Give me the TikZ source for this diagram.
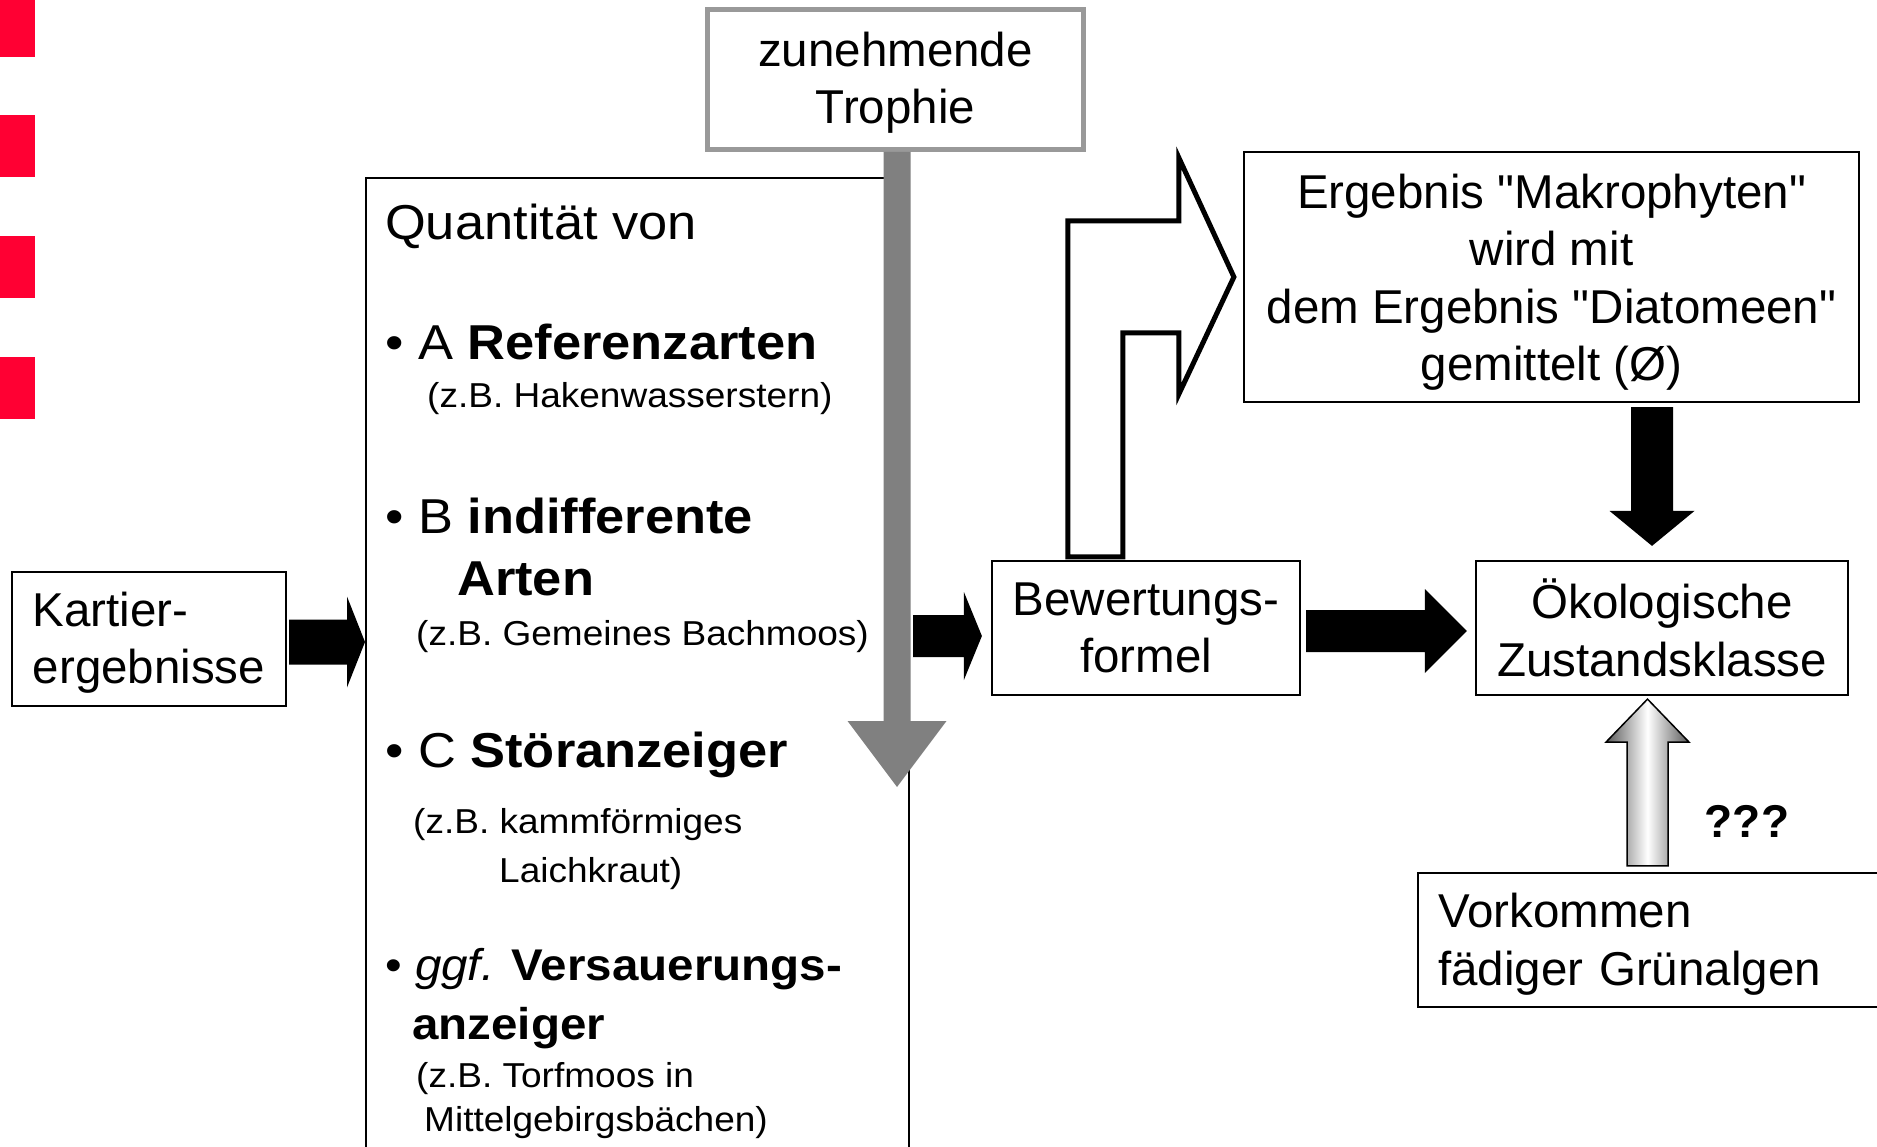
\documentclass[tikz,border=0pt]{standalone}
\usepackage{fontspec}
\setmainfont{Liberation Sans}[Ligatures=TeXOff]
\newfontfamily\quantfont[FakeStretch=1.07,Ligatures=TeXOff]{Liberation Sans}
\usetikzlibrary{calc}
\definecolor{barred}{RGB}{255,0,51}
\definecolor{shaftgray}{RGB}{128,128,128}
\definecolor{framegray}{RGB}{153,153,153}

\begin{document}
\begin{tikzpicture}[x=1pt, y=-1pt,
    kasten/.style={draw, line width=2.2pt, inner sep=0pt, align=center, font=\fontsize{47.5}{57.5}\selectfont},
    punkt/.style={anchor=base west, inner sep=0pt, font=\quantfont\fontsize{49}{59}\selectfont},
    punktklein/.style={punkt, font=\quantfont\fontsize{44.4}{54}\selectfont},
    beispiel/.style={anchor=base west, inner sep=0pt, font=\quantfont\fontsize{34.6}{42}\selectfont},
    blockpfeil/.style={fill=black}]

\useasboundingbox (0,0) rectangle (1877,1147);
\clip (0,0) rectangle (1877,1147);

% rote Balken am linken Rand
\foreach \y in {-5,115,236,357}
  \fill[barred] (0,\y) rectangle (35,\y+62);

% Kaesten
\node[kasten, align=left, minimum width=274pt, minimum height=134pt] (kart) at (149,639)
  {\rule{0pt}{41.6pt}Kartier-\\ergebnisse};
\node[kasten, anchor=north west, minimum width=543pt, minimum height=1000pt] (quant) at (365,177) {};
\node[kasten, minimum width=308pt, minimum height=134pt] (bewert) at (1146,628) {Bewertungs-\\formel};
\node[kasten, minimum width=372pt, minimum height=134pt] (oeko) at (1662,628) {Ökologische\\Zustandsklasse};
\node[kasten, minimum width=615pt, minimum height=250pt] (ergeb) at (1551.5,277)
  {\rule{0pt}{45pt}Ergebnis "Makrophyten"\\wird mit\\dem Ergebnis "Diatomeen"\\gemittelt (Ø)};
\node[kasten, anchor=west, align=left, minimum height=134pt, text width=440pt, inner xsep=20pt] (vork) at (1417,940)
  {\rule{0pt}{42.6pt}Vorkommen\\fädiger Grünalgen};
\node[kasten, draw=framegray, line width=5pt, minimum width=376pt, minimum height=140pt] (troph) at (895.5,79.5)
  {\rule{0pt}{40.6pt}zunehmende\\Trophie};

% Inhalt der Quantitaet
\node[punkt] (qtitel) at (385,240) {Quantität von};
\node[punkt] (qa) at (385,360) {• A \textbf{Referenzarten}};
\node[beispiel] (qabsp) at (427,407) {(z.B. Hakenwasserstern)};
\node[punkt] (qb) at (385,533) {• B \textbf{indifferente}};
\node[punkt] (qbzwei) at (457,595) {\textbf{Arten}};
\node[beispiel] (qbbsp) at (416,645) {(z.B. Gemeines Bachmoos)};
\node[punkt] (qc) at (385,767) {• C \textbf{Störanzeiger}};
\node[beispiel] (qcbsp) at (413,833) {(z.B. kammförmiges};
\node[beispiel] (qcbspzwei) at (499,882) {Laichkraut)};
\node[punktklein] (qd) at (385,980) {• \textit{ggf.} \textbf{Versauerungs-}};
\node[punktklein] (qdzwei) at (412,1039) {\textbf{anzeiger}};
\node[beispiel] (qdbsp) at (416,1087) {(z.B. Torfmoos in};
\node[beispiel] (qdbspzwei) at (424,1131) {Mittelgebirgsbächen)};

% Trophie-Pfeil
\coordinate (tanf) at ($(troph.south)+(1.5,0)$);
\coordinate (tend) at (tanf |- 0,787);
\fill[shaftgray] ($(tanf)+(-13.5,0)$) -- ($(tend)+(-13.5,-66)$) -- ++(-36,0) -- (tend)
  -- ++(49.5,-66) -- ++(-36,0) -- ($(tanf)+(13.5,0)$) -- cycle;

% Kartierergebnisse -> Quantitaet
\coordinate (k1) at ($(kart.east)+(2,3)$);
\coordinate (k2) at (k1 -| quant.west);
\fill[blockpfeil] ($(k1)+(0,-22.5)$) -- ($(k2)+(-18,-22.5)$) -- ++(0,-23) -- (k2)
  -- ++(-18,45.5) -- ++(0,-23) -- ($(k1)+(0,22.5)$) -- cycle;

% Quantitaet -> Bewertungsformel
\coordinate (q1) at ($(quant.east |- bewert.west)+(3,8)$);
\coordinate (q2) at ($(bewert.west)+(-9,8)$);
\fill[blockpfeil] ($(q1)+(0,-21)$) -- ($(q2)+(-18,-21)$) -- ++(0,-23) -- (q2)
  -- ++(-18,44) -- ++(0,-23) -- ($(q1)+(0,21)$) -- cycle;

% Bewertungsformel -> Zustandsklasse
\coordinate (z1) at ($(bewert.east)+(5,3)$);
\coordinate (z2) at ($(oeko.west)+(-8,3)$);
\fill[blockpfeil] ($(z1)+(0,-21)$) -- ($(z2)+(-42,-21)$) -- ++(0,-21) -- (z2)
  -- ++(-42,42) -- ++(0,-21) -- ($(z1)+(0,21)$) -- cycle;

% Ergebnis -> Zustandsklasse
\coordinate (e1) at ($(ergeb.south -| oeko.north)+(-10,4)$);
\coordinate (e2) at ($(oeko.north)+(-10,-14)$);
\fill[blockpfeil] ($(e1)+(-21,0)$) -- ($(e2)+(-21,-35)$) -- ++(-21.5,0) -- (e2)
  -- ++(42.5,-35) -- ++(-21.5,0) -- ($(e1)+(21,0)$) -- cycle;

% Gruenalgen -> Zustandsklasse
\coordinate (g1) at ($(vork.north -| oeko.south)+(-14.5,-6)$);
\coordinate (g2) at ($(oeko.south)+(-14.5,3)$);
\shadedraw[left color=black!65, right color=black!65, middle color=white, draw=black, line width=1.5pt]
  ($(g1)+(-20.5,0)$) -- ($(g2)+(-20.5,43)$) -- ++(-21,0) -- (g2)
  -- ++(41.5,43) -- ++(-21,0) -- ($(g1)+(20.5,0)$) -- cycle;
\node[inner sep=0pt, font=\bfseries\fontsize{46}{55}\selectfont] (fragen) at (1747,821) {???};

% Bewertungsformel -> Ergebnis (Winkelpfeil)
\coordinate (b1) at ($(bewert.north west)+(77,-3)$);
\coordinate (b2) at ($(ergeb.west)+(-9,0)$);
\draw[line width=5pt, fill=white, line join=miter] (b1) -- ++(0,-336) -- ++(111,0) -- ++(0,-63) -- (b2)
  -- ++(-55,117) -- ++(0,-61) -- ++(-56,0) -- ($(b1)+(55,0)$) -- cycle;

\end{tikzpicture}
\end{document}
